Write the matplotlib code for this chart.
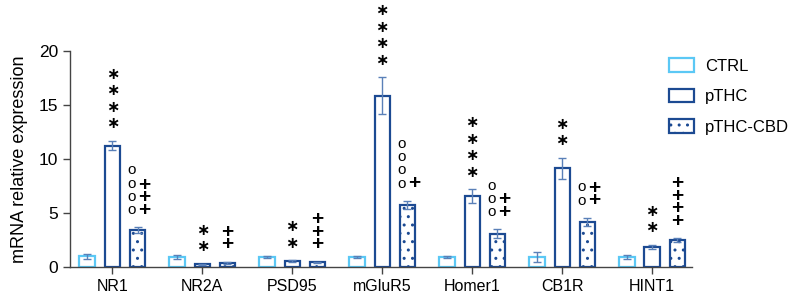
import matplotlib
matplotlib.use("Agg")
import matplotlib.pyplot as plt
import numpy as np
from matplotlib.patches import Patch

plt.rcParams['font.family'] = ['Liberation Sans', 'DejaVu Sans']
plt.rcParams['hatch.linewidth'] = 1.0

genes = ["NR1", "NR2A", "PSD95", "mGluR5", "Homer1", "CB1R", "HINT1"]
groups = ["CTRL", "pTHC", "pTHC-CBD"]

ctrl_mean = [1.0, 0.95, 0.95, 0.95, 0.95, 0.95, 0.95]
ctrl_sem = [0.25, 0.2, 0.05, 0.1, 0.1, 0.45, 0.2]
pthc_mean = [11.25, 0.3, 0.55, 15.85, 6.55, 9.15, 1.9]
pthc_sem = [0.45, 0.05, 0.1, 1.7, 0.65, 0.95, 0.2]
cbd_mean = [3.45, 0.4, 0.45, 5.75, 3.1, 4.2, 2.5]
cbd_sem = [0.25, 0.1, 0.05, 0.4, 0.4, 0.4, 0.2]

# significance marks
stars_pthc = [4, 2, 2, 4, 4, 2, 2]      # pTHC vs CTRL
circles_cbd = [4, 0, 0, 4, 3, 2, 0]     # pTHC-CBD vs CTRL
plus_cbd = [3, 2, 3, 1, 2, 2, 4]        # pTHC-CBD vs pTHC

ctrl_col = "#5BC8F5"
dark_col = "#1C4A92"
err_col = "#5A80B8"

fig = plt.figure(figsize=(7.96, 2.97), dpi=100)
ax = fig.add_axes([0.088, 0.100, 0.781, 0.729])

x = np.arange(len(genes))
off = 0.28
w = 0.17

ax.bar(x - off, ctrl_mean, w, facecolor="white", edgecolor=ctrl_col, linewidth=1.6, zorder=2)
ax.bar(x, pthc_mean, w, facecolor="white", edgecolor=dark_col, linewidth=1.6, zorder=2)
ax.bar(x + off, cbd_mean, w, facecolor="white", edgecolor=dark_col, linewidth=1.6,
       hatch="..", zorder=2)

for xs, m, s in [(x - off, ctrl_mean, ctrl_sem), (x, pthc_mean, pthc_sem), (x + off, cbd_mean, cbd_sem)]:
    ax.errorbar(xs, m, yerr=s, fmt="none", ecolor=err_col, elinewidth=1.0,
                capsize=3, capthick=1.0, zorder=3)

def stack(xc, ytop, sym, n, dx, step, fs, weight="normal"):
    for i in range(n):
        ax.annotate(sym, xy=(xc, ytop), xytext=(dx, 17 + i * step),
                    textcoords="offset pixels", ha="center", va="center",
                    fontsize=fs, fontweight=weight, annotation_clip=False, color="black")

for i in range(len(genes)):
    ytop = pthc_mean[i] + pthc_sem[i]
    stack(x[i], ytop, "∗", stars_pthc[i], 0, 16.5, 11.5, "bold")
    ytop2 = cbd_mean[i] + cbd_sem[i]
    if circles_cbd[i] > 0:
        stack(x[i] + off, ytop2, "o", circles_cbd[i], -6, 13.3, 11)
        stack(x[i] + off, ytop2, "+", plus_cbd[i], 7, 12.5, 15, "bold")
    else:
        stack(x[i] + off, ytop2, "+", plus_cbd[i], 0, 12.5, 15, "bold")

ax.set_xlim(-0.47, 6.44)
ax.set_ylim(0, 20)
ax.set_yticks([0, 5, 10, 15, 20])
ax.set_xticks(x)
ax.set_xticklabels(genes)
for sp in ["top", "right"]:
    ax.spines[sp].set_visible(False)
for sp in ["left", "bottom"]:
    ax.spines[sp].set_color("#444444")
    ax.spines[sp].set_linewidth(1.0)
ax.tick_params(axis="both", labelsize=11.5, color="#444444", length=5, width=1.0)
ax.tick_params(axis="y", labelsize=12.5)
ax.set_ylabel("mRNA relative expression", fontsize=13, labelpad=8)

handles = [Patch(facecolor="white", edgecolor=ctrl_col, linewidth=1.6, label=groups[0]),
           Patch(facecolor="white", edgecolor=dark_col, linewidth=1.6, label=groups[1]),
           Patch(facecolor="white", edgecolor=dark_col, linewidth=1.6, hatch="..", label=groups[2])]
fig.legend(handles=handles, loc="upper left", bbox_to_anchor=(0.840, 0.805), frameon=False,
           fontsize=12, handlelength=1.5, handleheight=0.9, labelspacing=0.9,
           handletextpad=0.7, borderpad=0, borderaxespad=0)

fig.savefig("out.png", dpi=100)
